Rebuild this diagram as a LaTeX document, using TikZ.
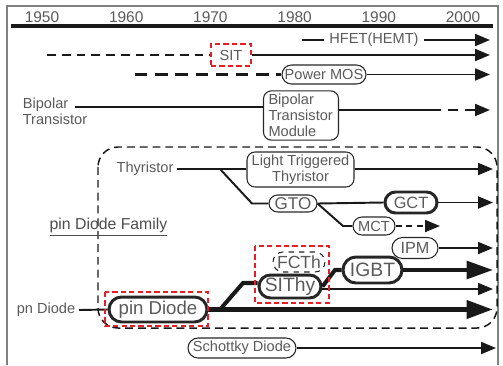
\documentclass[tikz,border=0pt]{standalone}
\usepackage{fontspec}
\setmainfont{Liberation Sans}
\usepackage{xcolor}
\usepackage{tikz}
\usetikzlibrary{arrows.meta, shapes.misc, calc}
\definecolor{txtgray}{RGB}{90,90,90}
\definecolor{boxred}{RGB}{232,28,36}

\begin{document}
\begin{tikzpicture}[x=0.02cm, y=-0.02cm,
  Tnorm/.tip={Triangle[length=8.5pt,width=6.8pt]},
  Tfat/.tip={Triangle[length=15pt,width=10pt]},
  lbl/.style={text=txtgray, font=\fontsize{8.3}{9}\selectfont, inner sep=2pt},
  dev/.style={lbl, draw=black!85, line width=0.6pt, rounded rectangle, inner sep=0pt},
  devthick/.style={dev, line width=1.7pt},
  ln/.style={draw=black!90, line width=1.1pt},
  thinln/.style={draw=black!90, line width=0.85pt},
  midln/.style={draw=black!90, line width=2.3pt},
  fatln/.style={draw=black!90, line width=2.9pt},
  redbox/.style={draw=boxred, line width=1.5pt, dash pattern=on 3pt off 1.8pt},
  famline/.style={draw=black!90, line width=0.85pt, dash pattern=on 4.5pt off 2.8pt}]
\useasboundingbox (0,0) rectangle (503,365);

% Frame and time axis
\draw[gray, line width=0.6pt] (7,365) -- (7,6) -- (498,6) -- (498,365);
\draw[black!90, line width=2.3pt] (11,26) -- (493,26);
\foreach \yr [count=\i from 0] in {1950,1960,1970,1980,1990,2000}
  \node[lbl, font=\fontsize{8.8}{9}\selectfont] (yr\i) at ({42+84.2*\i},17) {\yr};

% HFET
\node[lbl, inner xsep=3pt] (hfet) at (374,40) {HFET(HEMT)};
\coordinate (hfetS) at (302,40);
\coordinate (hfetE) at (490,40);
\draw[ln] (hfetS) -- (hfet.west);
\draw[ln, -Tnorm] (hfet.east) -- (hfetE);

% SIT
\node[lbl, redbox, text=txtgray, minimum width=0.8cm, minimum height=0.44cm] (sit) at (231,55) {SIT};
\coordinate (sitS) at (47,55);
\coordinate (sitE) at (490,55);
\draw[ln, dash pattern=on 5pt off 3.4pt] (sitS) -- (sit.west);
\draw[ln, -Tnorm] (sit.east) -- (sitE);

% Power MOS
\node[dev, minimum width=1.68cm, minimum height=0.38cm] (pmos) at (324,74.5) {Power MOS};
\coordinate (pmosS) at (135,74.5);
\coordinate (pmosE) at (490,74.5);
\draw[ln, line width=1.7pt, dash pattern=on 7pt off 4.5pt] (pmosS) -- (pmos.west);
\draw[ln, -Tnorm] (pmos.east) -- (pmosE);

% Bipolar transistor
\node[lbl, align=left, anchor=north west] (bip) at (19,94) {Bipolar\\Transistor};
\node[lbl, draw=black!85, line width=0.6pt, rounded corners=0.16cm, align=left,
  text width=1.3cm, inner xsep=0.1cm, minimum height=0.98cm] (btm) at (301,115.5)
  {Bipolar\\Transistor\\Module};
\coordinate (bipS) at (75,107);
\coordinate (btmD) at (430,110);
\coordinate (btmE) at (490,110);
\draw[ln] (bipS) -- (bipS -| btm.west);
\draw[ln] (btm.east |- btmD) -- (btmD);
\draw[ln, dash pattern=on 6pt off 4pt, -Tnorm] (btmD) -- (btmE);

% pin diode family
\draw[famline, rounded corners=0.4cm] (98,147) rectangle (497,328);
\node[lbl, text=black!70, font=\fontsize{9}{10}\selectfont] (famlbl) at (108.5,227) {\underline{pin Diode Family}};

% Thyristor branch
\node[lbl] (thy) at (145,169) {Thyristor};
\node[lbl, draw=black!85, line width=0.6pt, rounded corners=0.16cm, align=center,
  minimum width=2.14cm, minimum height=0.7cm, inner sep=0pt] (ltt) at (300.5,169.5)
  {Light Triggered\\Thyristor};
\coordinate (lttE) at (493,169);
\draw[ln] (thy.east) -- (thy.east -| ltt.west);
\draw[ln, -Tnorm] (ltt.east |- lttE) -- (lttE);

\node[dev, font=\fontsize{9.7}{10}\selectfont, minimum width=0.96cm, minimum height=0.34cm] (gto) at (293,203.5) {GTO};
\node[devthick, font=\fontsize{9.3}{10}\selectfont, minimum width=1.04cm, minimum height=0.42cm] (gct) at (411,202.5) {GCT};
\node[dev, minimum width=0.84cm, minimum height=0.36cm] (mct) at (374,226) {MCT};
\coordinate (thyB) at (220,169);
\coordinate (gtoB) at (252,203.5);
\coordinate (mctB) at (343,226);
\coordinate (gctE) at (493,202.5);
\coordinate (mctE) at (440,226);
\draw[ln] (thyB) -- (gtoB) -- (gto.west);
\draw[ln] (gto.east) -- (gct.west);
\draw[ln, -Tnorm] (gct.east) -- (gctE);
\draw[ln] (gto.east) -- (mctB) -- (mct.west);
\draw[ln, dash pattern=on 3.5pt off 2.5pt, -Tnorm] (mct.east) -- (mctE);

% Diode branch
\node[lbl] (pn) at (46,310) {pn Diode};
\node[devthick, font=\fontsize{10.6}{11}\selectfont, minimum width=1.96cm, minimum height=0.5cm] (pin) at (158,309.5) {pin Diode};
\node[devthick, font=\fontsize{11}{12}\selectfont, minimum width=1.24cm, minimum height=0.46cm] (sithy) at (290,286.5) {SIThy};
\node[dev, dashed, font=\fontsize{10}{11}\selectfont, minimum width=1.04cm, minimum height=0.4cm] (fcth) at (299,262) {FCTh};
\node[devthick, font=\fontsize{11}{12}\selectfont, minimum width=1.18cm, minimum height=0.52cm] (igbt) at (372.5,270) {IGBT};
\node[dev, font=\fontsize{9.2}{10}\selectfont, minimum width=0.92cm, minimum height=0.42cm] (ipm) at (415,248) {IPM};
\node[dev, minimum width=2.16cm, minimum height=0.4cm] (sch) at (242,348) {Schottky Diode};

\coordinate (pinB) at (220,309.5);
\coordinate (sithyB) at (243,283);
\coordinate (igbtB) at (335,270);
\coordinate (pinE) at (493,309.5);
\coordinate (sithyE) at (493,289);
\coordinate (igbtE) at (493,270);
\coordinate (ipmE) at (493,248);
\coordinate (schE) at (496,348);

\draw[ln] (pn.east) -- (pin.west);
\draw[fatln, -Tfat] (pin.east) -- (pinE);
\draw[midln] (pinB) -- (sithyB) -- (sithyB -| sithy.west);
\draw[midln] (sithy.east) -- (igbtB) -- (igbt.west);
\draw[thinln, -Tnorm] (sithy.east |- sithyE) -- (sithyE);
\draw[midln, -Tfat] (igbt.east) -- (igbtE);
\draw[ln, -Tnorm] (ipm.east) -- (ipmE);
\draw[ln, -Tnorm] (sch.east) -- (schE);

% red marks
\draw[redbox] (105,292) rectangle (208,326);
\draw[redbox] (255,246) rectangle (329,303);

\end{tikzpicture}
\end{document}
